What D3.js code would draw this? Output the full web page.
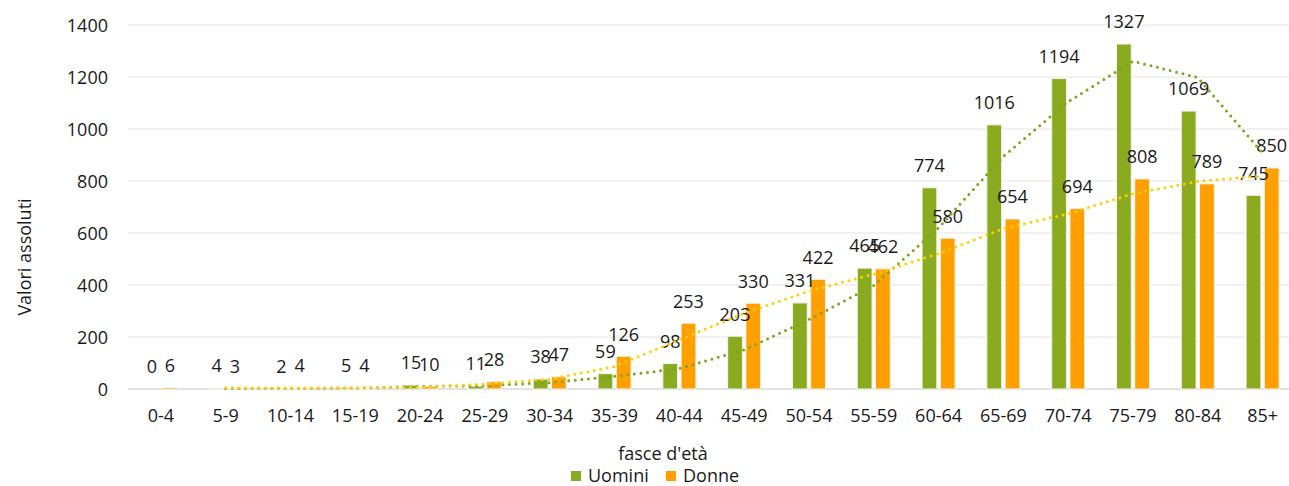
<!DOCTYPE html>
<html>
<head>
<meta charset="utf-8">
<script src="https://cdn.jsdelivr.net/npm/d3@7/dist/d3.min.js"></script>
<style>
  html, body { margin: 0; padding: 0; background: #ffffff; }
  svg { display: block; }
  text { font-family: "Open Sans", "Noto Sans", "Liberation Sans", sans-serif; fill: #1a1a1a; }
</style>
</head>
<body>
<svg id="chart" width="1289" height="486"></svg>
<script>
// Age groups (fasce d'età)
const categories = ["0-4","5-9","10-14","15-19","20-24","25-29","30-34","35-39","40-44","45-49","50-54","55-59","60-64","65-69","70-74","75-79","80-84","85+"];
// Absolute values per sex
const uomini = [0, 4, 2, 5, 15, 11, 38, 59, 98, 203, 331, 465, 774, 1016, 1194, 1327, 1069, 745];
const donne  = [6, 3, 4, 4, 10, 28, 47, 126, 253, 330, 422, 462, 580, 654, 694, 808, 789, 850];
const yTicks = [0, 200, 400, 600, 800, 1000, 1200, 1400];
const seriesNames = ["Uomini", "Donne"];

const colors = { Uomini: "#8aaa1f", Donne: "#ffa000" };
const trendColors = { Uomini: "#7ea51f", Donne: "#ffd000" };

const svg = d3.select("#chart");
const fontSize = 18;

const x = d3.scaleBand().domain(categories).range([128.5, 1295]).paddingInner(0).paddingOuter(0);
const y = d3.scaleLinear().domain([0, 1400]).range([389, 25]);

const bw = x.bandwidth();
const xs = d3.scaleBand().domain(seriesNames).range([bw / 2 - 16.5, bw / 2 + 16.5]).paddingInner(0.19);

// Horizontal gridlines
svg.append("g")
  .selectAll("line")
  .data(yTicks)
  .join("line")
  .attr("x1", 128).attr("x2", 1295)
  .attr("y1", d => y(d)).attr("y2", d => y(d))
  .attr("stroke", d => d === 0 ? "#d9d9d9" : "#e3e3e3")
  .attr("stroke-width", d => d === 0 ? 1.5 : 1.2);

// Y axis tick labels
const yAxis = d3.axisLeft(y).tickValues(yTicks).tickFormat(d3.format("d")).tickSize(0).tickPadding(0);
const gy = svg.append("g").attr("transform", "translate(108,0)").call(yAxis);
gy.select(".domain").remove();
gy.selectAll("text").attr("font-size", fontSize).attr("font-family", null).attr("fill", "#1a1a1a").attr("dy", "0.35em");

// X axis tick labels
const xAxis = d3.axisBottom(x).tickSize(0).tickPadding(0);
const gx = svg.append("g").attr("transform", "translate(0,416)").call(xAxis);
gx.select(".domain").remove();
gx.selectAll("text").attr("font-size", fontSize).attr("font-family", null).attr("fill", "#1a1a1a").attr("dy", "0.35em");

// Bars
const rows = categories.map((c, i) => ({ cat: c, Uomini: uomini[i], Donne: donne[i] }));
const groups = svg.append("g")
  .selectAll("g")
  .data(rows)
  .join("g")
  .attr("transform", d => `translate(${x(d.cat)},0)`);

groups.selectAll("rect")
  .data(d => seriesNames.map(k => ({ key: k, value: d[k] })))
  .join("rect")
  .attr("x", d => xs(d.key))
  .attr("width", xs.bandwidth())
  .attr("y", d => y(d.value))
  .attr("height", d => y(0) - y(d.value))
  .attr("fill", d => colors[d.key])
  .attr("stroke", "#f4f4ec")
  .attr("stroke-width", d => d.value > 0 ? 1 : 0);

// Two-period moving average trendlines
const movingAvg = vals => vals.slice(1).map((v, i) => ({ cat: categories[i + 1], value: (vals[i] + v) / 2 }));
const line = d3.line().x(d => x(d.cat) + bw / 2).y(d => y(d.value));
[["Uomini", uomini], ["Donne", donne]].forEach(([name, vals]) => {
  svg.append("path")
    .datum(movingAvg(vals))
    .attr("d", line)
    .attr("fill", "none")
    .attr("stroke", trendColors[name])
    .attr("stroke-width", 3)
    .attr("stroke-linecap", "round")
    .attr("stroke-dasharray", "0 6.6");
});

// Data labels
groups.selectAll("text.val")
  .data(d => seriesNames.map(k => ({ key: k, value: d[k] })))
  .join("text")
  .attr("class", "val")
  .attr("x", d => xs(d.key) + xs.bandwidth() / 2)
  .attr("y", d => y(d.value) - 22)
  .attr("dy", "0.35em")
  .attr("text-anchor", "middle")
  .attr("font-size", fontSize)
  .text(d => d.value);

// Axis titles
svg.append("text")
  .attr("transform", "translate(25,257) rotate(-90)")
  .attr("text-anchor", "middle")
  .attr("dy", "0.35em")
  .attr("font-size", fontSize)
  .text("Valori assoluti");

svg.append("text")
  .attr("x", 663).attr("y", 454)
  .attr("text-anchor", "middle")
  .attr("dy", "0.35em")
  .attr("font-size", fontSize)
  .text("fasce d'età");

// Legend
const legend = svg.append("g").attr("transform", "translate(571,476)");
const legendX = { Uomini: 0, Donne: 95 };
seriesNames.forEach(k => {
  const g = legend.append("g").attr("transform", `translate(${legendX[k]},0)`);
  g.append("rect").attr("x", 0).attr("y", -5).attr("width", 10).attr("height", 10).attr("fill", colors[k]);
  g.append("text").attr("x", 17).attr("dy", "0.35em").attr("font-size", fontSize).text(k);
});
</script>
</body>
</html>
